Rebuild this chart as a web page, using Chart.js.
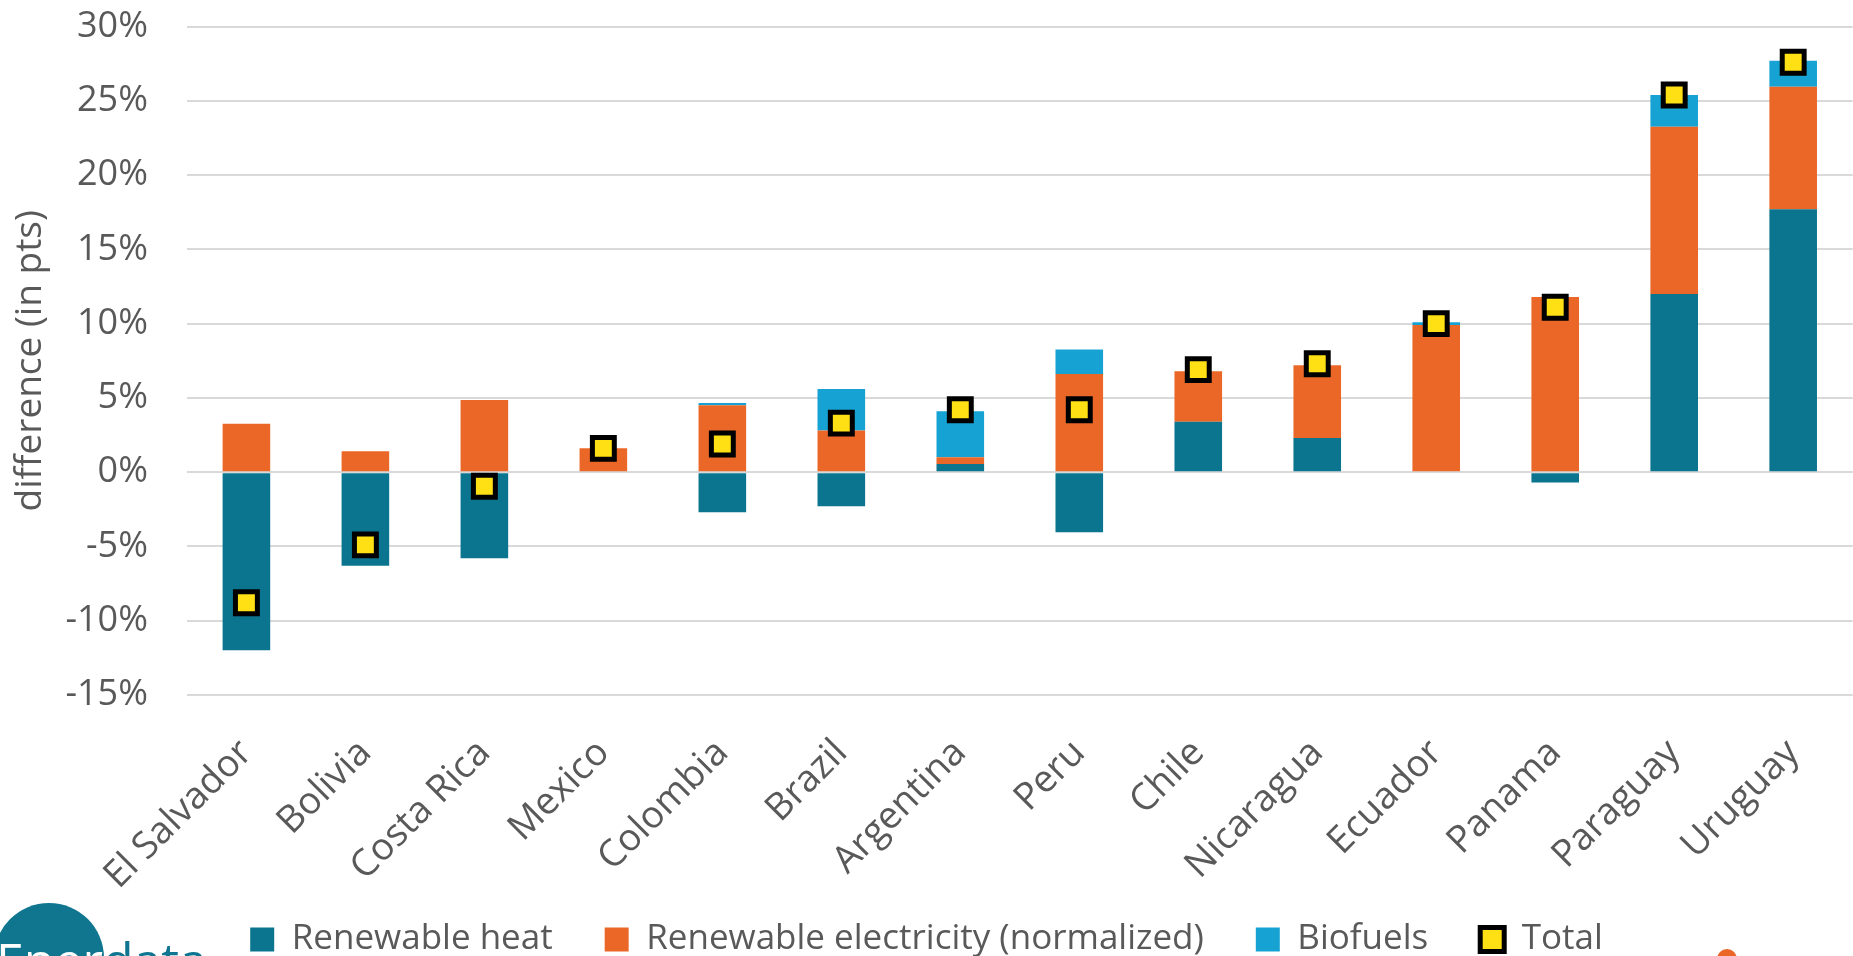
<!DOCTYPE html>
<html>
<head>
<meta charset="utf-8">
<script src="https://cdn.jsdelivr.net/npm/chart.js@4"></script>
<style>
  html, body { margin: 0; padding: 0; background: #fff; overflow: hidden; }
  #wrap { position: relative; width: 1853px; height: 967px; }
  .logo-txt { position: absolute; left: -4px; top: 926px; font-family: "Open Sans", sans-serif; font-size: 50px; color: #0f7590; white-space: nowrap; }
  .logo-circle { position: absolute; left: -6px; top: 903px; width: 110px; height: 110px; border-radius: 50%; background: #10768f; overflow: hidden; }
  .logo-circle span { position: absolute; left: 2px; top: 23px; font-family: "Open Sans", sans-serif; font-size: 50px; color: #fff; white-space: nowrap; }
  .dot { position: absolute; left: 1717px; top: 949px; width: 20px; height: 20px; border-radius: 50%; background: #eb6727; }
</style>
</head>
<body>
<div id="wrap">
  <canvas id="myChart" width="1853" height="967"></canvas>
  <div class="logo-txt">Enerdata</div>
  <div class="logo-circle"><span>Enerdata</span></div>
  <div class="dot"></div>
</div>
<script>
// Datos del gráfico
const paises = ['El Salvador', 'Bolivia', 'Costa Rica', 'Mexico', 'Colombia', 'Brazil', 'Argentina', 'Peru', 'Chile', 'Nicaragua', 'Ecuador', 'Panama', 'Paraguay', 'Uruguay'];
const calorRenovable = [-12.0, -6.3, -5.8, 0.0, -2.7, -2.3, 0.55, -4.05, 3.4, 2.3, 0.0, -0.7, 12.0, 17.7];
const electricidadRenovable = [3.25, 1.4, 4.85, 1.6, 4.5, 2.8, 0.45, 6.6, 3.4, 4.9, 9.9, 11.8, 11.25, 8.25];
const biocombustibles = [0.0, 0.0, 0.0, 0.0, 0.15, 2.8, 3.1, 1.65, 0.0, 0.0, 0.2, 0.0, 2.15, 1.75];
const total = [-8.8, -4.9, -0.95, 1.6, 1.9, 3.3, 4.2, 4.2, 6.9, 7.3, 10.0, 11.1, 25.4, 27.6];

const fuente = '"Open Sans", sans-serif';
const gris = '#595959';

const ctx = document.getElementById('myChart');
new Chart(ctx, {
  type: 'bar',
  data: {
    labels: paises,
    datasets: [
      { label: 'Renewable heat', data: calorRenovable, backgroundColor: '#0b7590', stack: 's', order: 1, barPercentage: 0.4, categoryPercentage: 1.0 },
      { label: 'Renewable electricity (normalized)', data: electricidadRenovable, backgroundColor: '#eb6727', stack: 's', order: 1, barPercentage: 0.4, categoryPercentage: 1.0 },
      { label: 'Biofuels', data: biocombustibles, backgroundColor: '#16a3d3', stack: 's', order: 1, barPercentage: 0.4, categoryPercentage: 1.0 },
      {
        type: 'line', label: 'Total', data: total, stack: 'total', order: 0,
        showLine: false, pointStyle: 'rect', pointRadius: 15.5,
        backgroundColor: '#ffe014', borderColor: '#000', borderWidth: 5
      }
    ]
  },
  options: {
    responsive: false,
    animation: false,
    layout: { autoPadding: false, padding: { top: 26, right: 0, left: 0, bottom: 0 } },
    plugins: {
      tooltip: { enabled: false },
      legend: {
        position: 'bottom',
        labels: {
          sort: (a, b) => a.datasetIndex - b.datasetIndex,
          color: gris,
          font: { family: fuente, size: 35 },
          boxWidth: 24,
          boxHeight: 24,
          padding: 52
        }
      }
    },
    scales: {
      x: {
        stacked: true,
        grid: { display: false },
        border: { display: false },
        ticks: { color: gris, font: { family: fuente, size: 37.5 }, minRotation: 45, maxRotation: 45, padding: 28 },
        afterFit: (escala) => {
          escala.height -= 56;
          // sin recorte: las etiquetas pueden bajar hacia el espacio de la leyenda
          escala._computeLabelArea = () => undefined;
        }
      },
      y: {
        stacked: true,
        min: -15, max: 30,
        border: { display: false },
        grid: { color: '#d9d9d9', lineWidth: 2, drawTicks: true, tickLength: 34, tickColor: 'rgba(0,0,0,0)' },
        ticks: { stepSize: 5, color: gris, font: { family: fuente, size: 36 }, padding: 5, callback: (v) => v + '%' },
        title: { display: true, text: 'difference (in pts)', color: gris, font: { family: fuente, size: 37 }, padding: 8 }
      }
    }
  }
});
</script>
</body>
</html>
